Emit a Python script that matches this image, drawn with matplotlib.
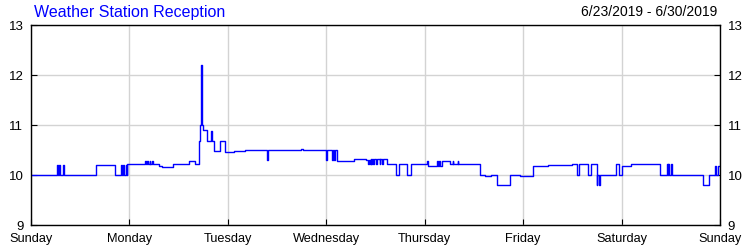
import matplotlib
matplotlib.use('Agg')
import matplotlib.pyplot as plt

plt.rcParams['font.family'] = ['Liberation Sans', 'DejaVu Sans']

# hours since Sunday 00:00 and signal value (held until next entry)
hours = [0.0, 6.3, 6.5, 6.8, 7.0, 7.8, 8.0, 15.8, 20.4, 21.9, 22.1, 22.4, 22.6, 23.1, 23.3, 23.4,
         27.9, 28.1, 28.4, 28.6, 28.9, 29.1, 29.6, 29.8, 31.3, 32.0, 34.7, 38.6, 40.0, 40.9, 41.1,
         41.4, 41.7, 41.9, 42.8, 43.8, 44.1, 44.6, 46.1, 47.2, 49.6, 52.2,
         57.5, 57.7, 65.8, 66.3, 71.9, 72.1, 73.5, 73.7, 74.0, 74.2, 74.7, 78.8, 80.0, 81.8,
         82.1, 82.3, 82.6, 82.8, 83.0, 83.2, 83.5, 83.7, 84.0, 84.3, 85.0, 85.2, 85.7, 85.9, 86.9,
         89.0, 89.8, 91.6, 92.6, 96.5, 96.8, 98.9, 99.2, 99.6, 99.8, 100.1, 102.2, 102.8, 103.0,
         104.0, 104.2, 109.5, 110.7, 112.1, 113.6, 116.8, 118.0, 119.2, 122.5, 126.0, 131.8,
         133.2, 133.5, 135.9, 136.5, 137.9, 138.1, 138.4, 138.7, 142.6, 143.4, 144.2, 146.2,
         153.3, 155.0, 155.2, 155.4, 155.6, 156.0, 156.2, 163.8, 165.2, 166.8, 167.0, 167.4, 168.0]
values = [10.0, 10.2, 10.0, 10.2, 10.0, 10.2, 10.0, 10.2, 10.0, 10.2, 10.0, 10.2, 10.0, 10.2, 10.0, 10.21,
          10.28, 10.21, 10.28, 10.21, 10.28, 10.21, 10.28, 10.21, 10.19, 10.17, 10.21, 10.28, 10.21, 10.69, 11.0,
          12.21, 11.0, 10.9, 10.69, 10.89, 10.69, 10.49, 10.69, 10.46, 10.48, 10.5,
          10.3, 10.5, 10.52, 10.5, 10.3, 10.5, 10.3, 10.5, 10.3, 10.5, 10.29, 10.32, 10.33, 10.31,
          10.22, 10.31, 10.22, 10.33, 10.22, 10.33, 10.22, 10.33, 10.22, 10.33, 10.22, 10.33, 10.22, 10.33, 10.22,
          10.01, 10.22, 10.0, 10.22, 10.29, 10.19, 10.29, 10.19, 10.29, 10.19, 10.29, 10.22, 10.29, 10.22,
          10.29, 10.22, 10.0, 9.99, 10.01, 9.81, 10.01, 10.0, 9.99, 10.18, 10.2, 10.21,
          10.0, 10.21, 10.0, 10.21, 9.8, 10.0, 9.8, 10.0, 10.21, 10.0, 10.19, 10.21,
          10.01, 10.21, 10.01, 10.21, 10.01, 10.21, 10.0, 9.81, 10.0, 10.18, 10.0, 10.18, 10.18]
day_labels = ['Sunday', 'Monday', 'Tuesday', 'Wednesday', 'Thursday', 'Friday', 'Saturday', 'Sunday']
title = 'Weather Station Reception'
date_range = '6/23/2019 - 6/30/2019'

fig = plt.figure(figsize=(7.5, 2.5), dpi=100)
ax = fig.add_axes([31/750, 0.1, 689/750, 0.8])

ax.step(hours, values, where='post', color='#0000ff', lw=1.0)

ax.set_xlim(0, 168)
ax.set_ylim(9, 13)
ax.set_xticks(range(0, 169, 24))
ax.set_xticklabels(day_labels)
ax.set_yticks([9, 10, 11, 12, 13])
ax.grid(True, color='#d3d3d3', lw=1)
ax.set_axisbelow(True)
ax.tick_params(axis='both', direction='in', length=4, left=True, right=True,
               labelleft=True, labelright=True)
ax.tick_params(axis='x', labelsize=9.2, pad=5.5)
ax.tick_params(axis='y', labelsize=9.5, pad=5.5)
for s in ax.spines.values():
    s.set_color('black')
    s.set_linewidth(1)

fig.text(34/750, 1 - 12/250, title, color='#0000ff', fontsize=11.5, va='center', ha='left')
fig.text(717/750, 1 - 12/250, date_range, color='black', fontsize=10, va='center', ha='right')

fig.savefig('out.png', dpi=100)
